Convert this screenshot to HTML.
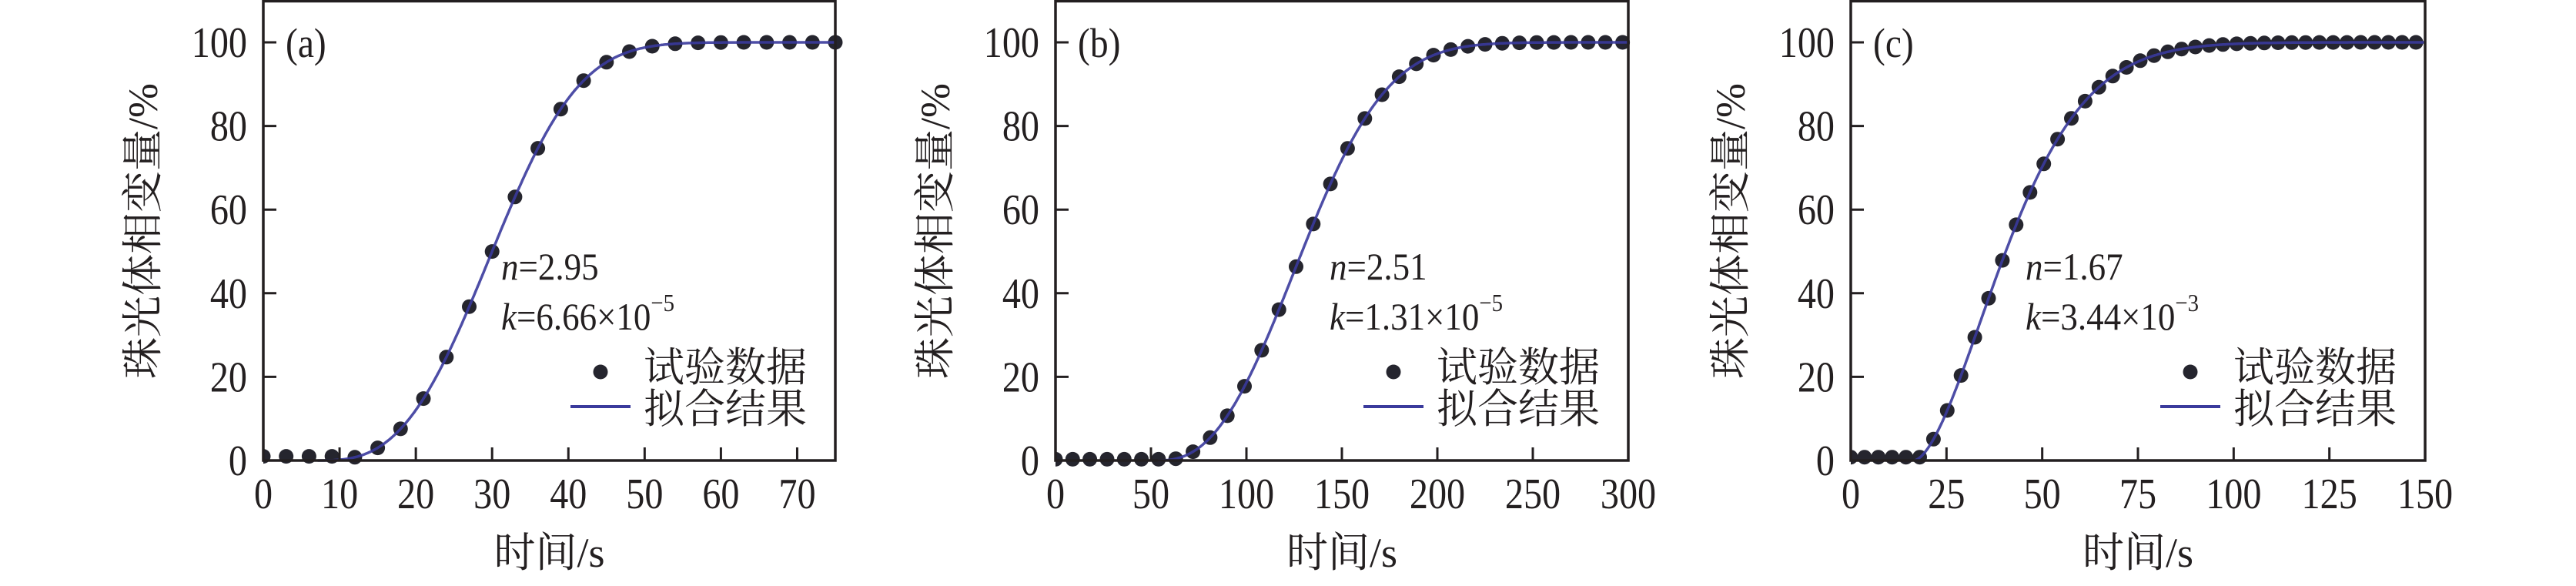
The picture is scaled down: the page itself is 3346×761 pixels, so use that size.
<!DOCTYPE html>
<html><head><meta charset="utf-8">
<style>
html,body{margin:0;padding:0;background:#fff;}
svg{display:block;}
.num{font-family:"Liberation Serif",serif;fill:#231f20;}
.cjk{font-family:"Liberation Serif","Noto Serif CJK SC","Noto Sans CJK SC",serif;fill:#231f20;}
</style></head>
<body>
<svg id="s" width="3346" height="761" viewBox="0 0 3346 761" xmlns="http://www.w3.org/2000/svg"></svg>
<script>
const NS="http://www.w3.org/2000/svg";
const svg=document.getElementById('s');
let out='';
const Y0=598,Y100=55,ppy=(Y0-Y100)/100;
function yv(v){return Y0-v*ppy;}
const panels=[
 {L:342,R:1085,xmax:75,ticks:[0,10,20,30,40,50,60,70],lab:'(a)',n:'2.95',k:'6.66',e:'−5',
  K:6.66e-5,N:2.95,t0:7,step:3,pre:1,nx:651},
 {L:1371,R:2115,xmax:300,ticks:[0,50,100,150,200,250,300],lab:'(b)',n:'2.51',k:'1.31',e:'−5',
  K:1.31e-5,N:2.51,t0:53,step:9,pre:0.3,nx:1727},
 {L:2404,R:3150,xmax:150,ticks:[0,25,50,75,100,125,150],lab:'(c)',n:'1.67',k:'3.44',e:'−3',
  K:3.44e-3,N:1.67,t0:16.5,step:3.6,pre:0.8,nx:2631}
];
function f(p,t){if(t<=p.t0)return 0;return 100*(1-Math.exp(-p.K*Math.pow(t-p.t0,p.N)));}
panels.forEach((p,i)=>{
 const xs=t=>p.L+(p.R-p.L)*t/p.xmax;
 out+=`<clipPath id="c${i}"><rect x="${p.L}" y="0" width="${p.R-p.L+12}" height="${Y0+12}"/></clipPath>`;
 // curve
 let d='';let first=true;
 for(let t=0;t<=p.xmax;t+=p.xmax/600){const v=f(p,t);if(v<=0)continue;d+=(first?'M':'L')+xs(t).toFixed(1)+' '+yv(v).toFixed(1)+' ';first=false;}
 out+=`<g clip-path="url(#c${i})">`;
 // points
 for(let t=0;t<=p.xmax+0.01;t+=p.step){let v=f(p,t);if(v<p.pre*1.5&&t<p.t0+p.step)v=Math.max(v,p.pre);out+=`<circle cx="${xs(t).toFixed(1)}" cy="${yv(v).toFixed(1)}" r="9.5" fill="#25252e"/>`;}
 out+=`<path d="${d}" fill="none" stroke="#3a3a9c" stroke-width="3.5" stroke-opacity="0.9"/>`;
 out+=`</g>`;
 // axes box
 out+=`<rect x="${p.L}" y="1.5" width="${p.R-p.L}" height="${Y0-1.5}" fill="none" stroke="#231f20" stroke-width="3.5"/>`;
 // ticks
 p.ticks.forEach(t=>{const x=xs(t);out+=`<line x1="${x}" y1="${Y0}" x2="${x}" y2="${Y0-17}" stroke="#231f20" stroke-width="3"/>`;
  out+=`<text class="num" font-size="56" text-anchor="middle" transform="translate(${x},660) scale(0.86,1)">${t}</text>`;});
 [0,20,40,60,80,100].forEach(v=>{const y=yv(v);out+=`<line x1="${p.L}" y1="${y}" x2="${p.L+17}" y2="${y}" stroke="#231f20" stroke-width="3"/>`;
  out+=`<text class="num" font-size="56" text-anchor="end" transform="translate(${p.L-21},${y+19}) scale(0.86,1)">${v}</text>`;});
 // labels
 out+=`<text class="num" font-size="54" transform="translate(${p.L+29},74) scale(0.88,1)">${p.lab}</text>`;
 out+=`<text class="cjk" font-size="54" text-anchor="middle" x="${(p.L+p.R)/2}" y="736">时间/s</text>`;
 out+=`<text class="cjk" font-size="54" text-anchor="middle" transform="translate(${p.L-138},${300}) rotate(-90)">珠光体相变量/%</text>`;
 out+=`<text class="num" font-size="50" transform="translate(${p.nx},363) scale(0.9,1)"><tspan font-style="italic">n</tspan>=${p.n}</text>`;
 out+=`<text class="num" font-size="50" transform="translate(${p.nx},428) scale(0.9,1)"><tspan font-style="italic">k</tspan>=${p.k}×10<tspan font-size="32" dy="-24">${p.e}</tspan></text>`;
 // legend
 const tx=p.R-249;
 out+=`<circle cx="${tx-56}" cy="483" r="9.5" fill="#25252e"/>`;
 out+=`<text class="cjk" font-size="53" x="${tx}" y="495">试验数据</text>`;
 out+=`<line x1="${tx-95}" y1="528" x2="${tx-17}" y2="528" stroke="#3a3a9c" stroke-width="4"/>`;
 out+=`<text class="cjk" font-size="53" x="${tx}" y="549">拟合结果</text>`;
});
svg.innerHTML=out;
</script>
</body></html>
